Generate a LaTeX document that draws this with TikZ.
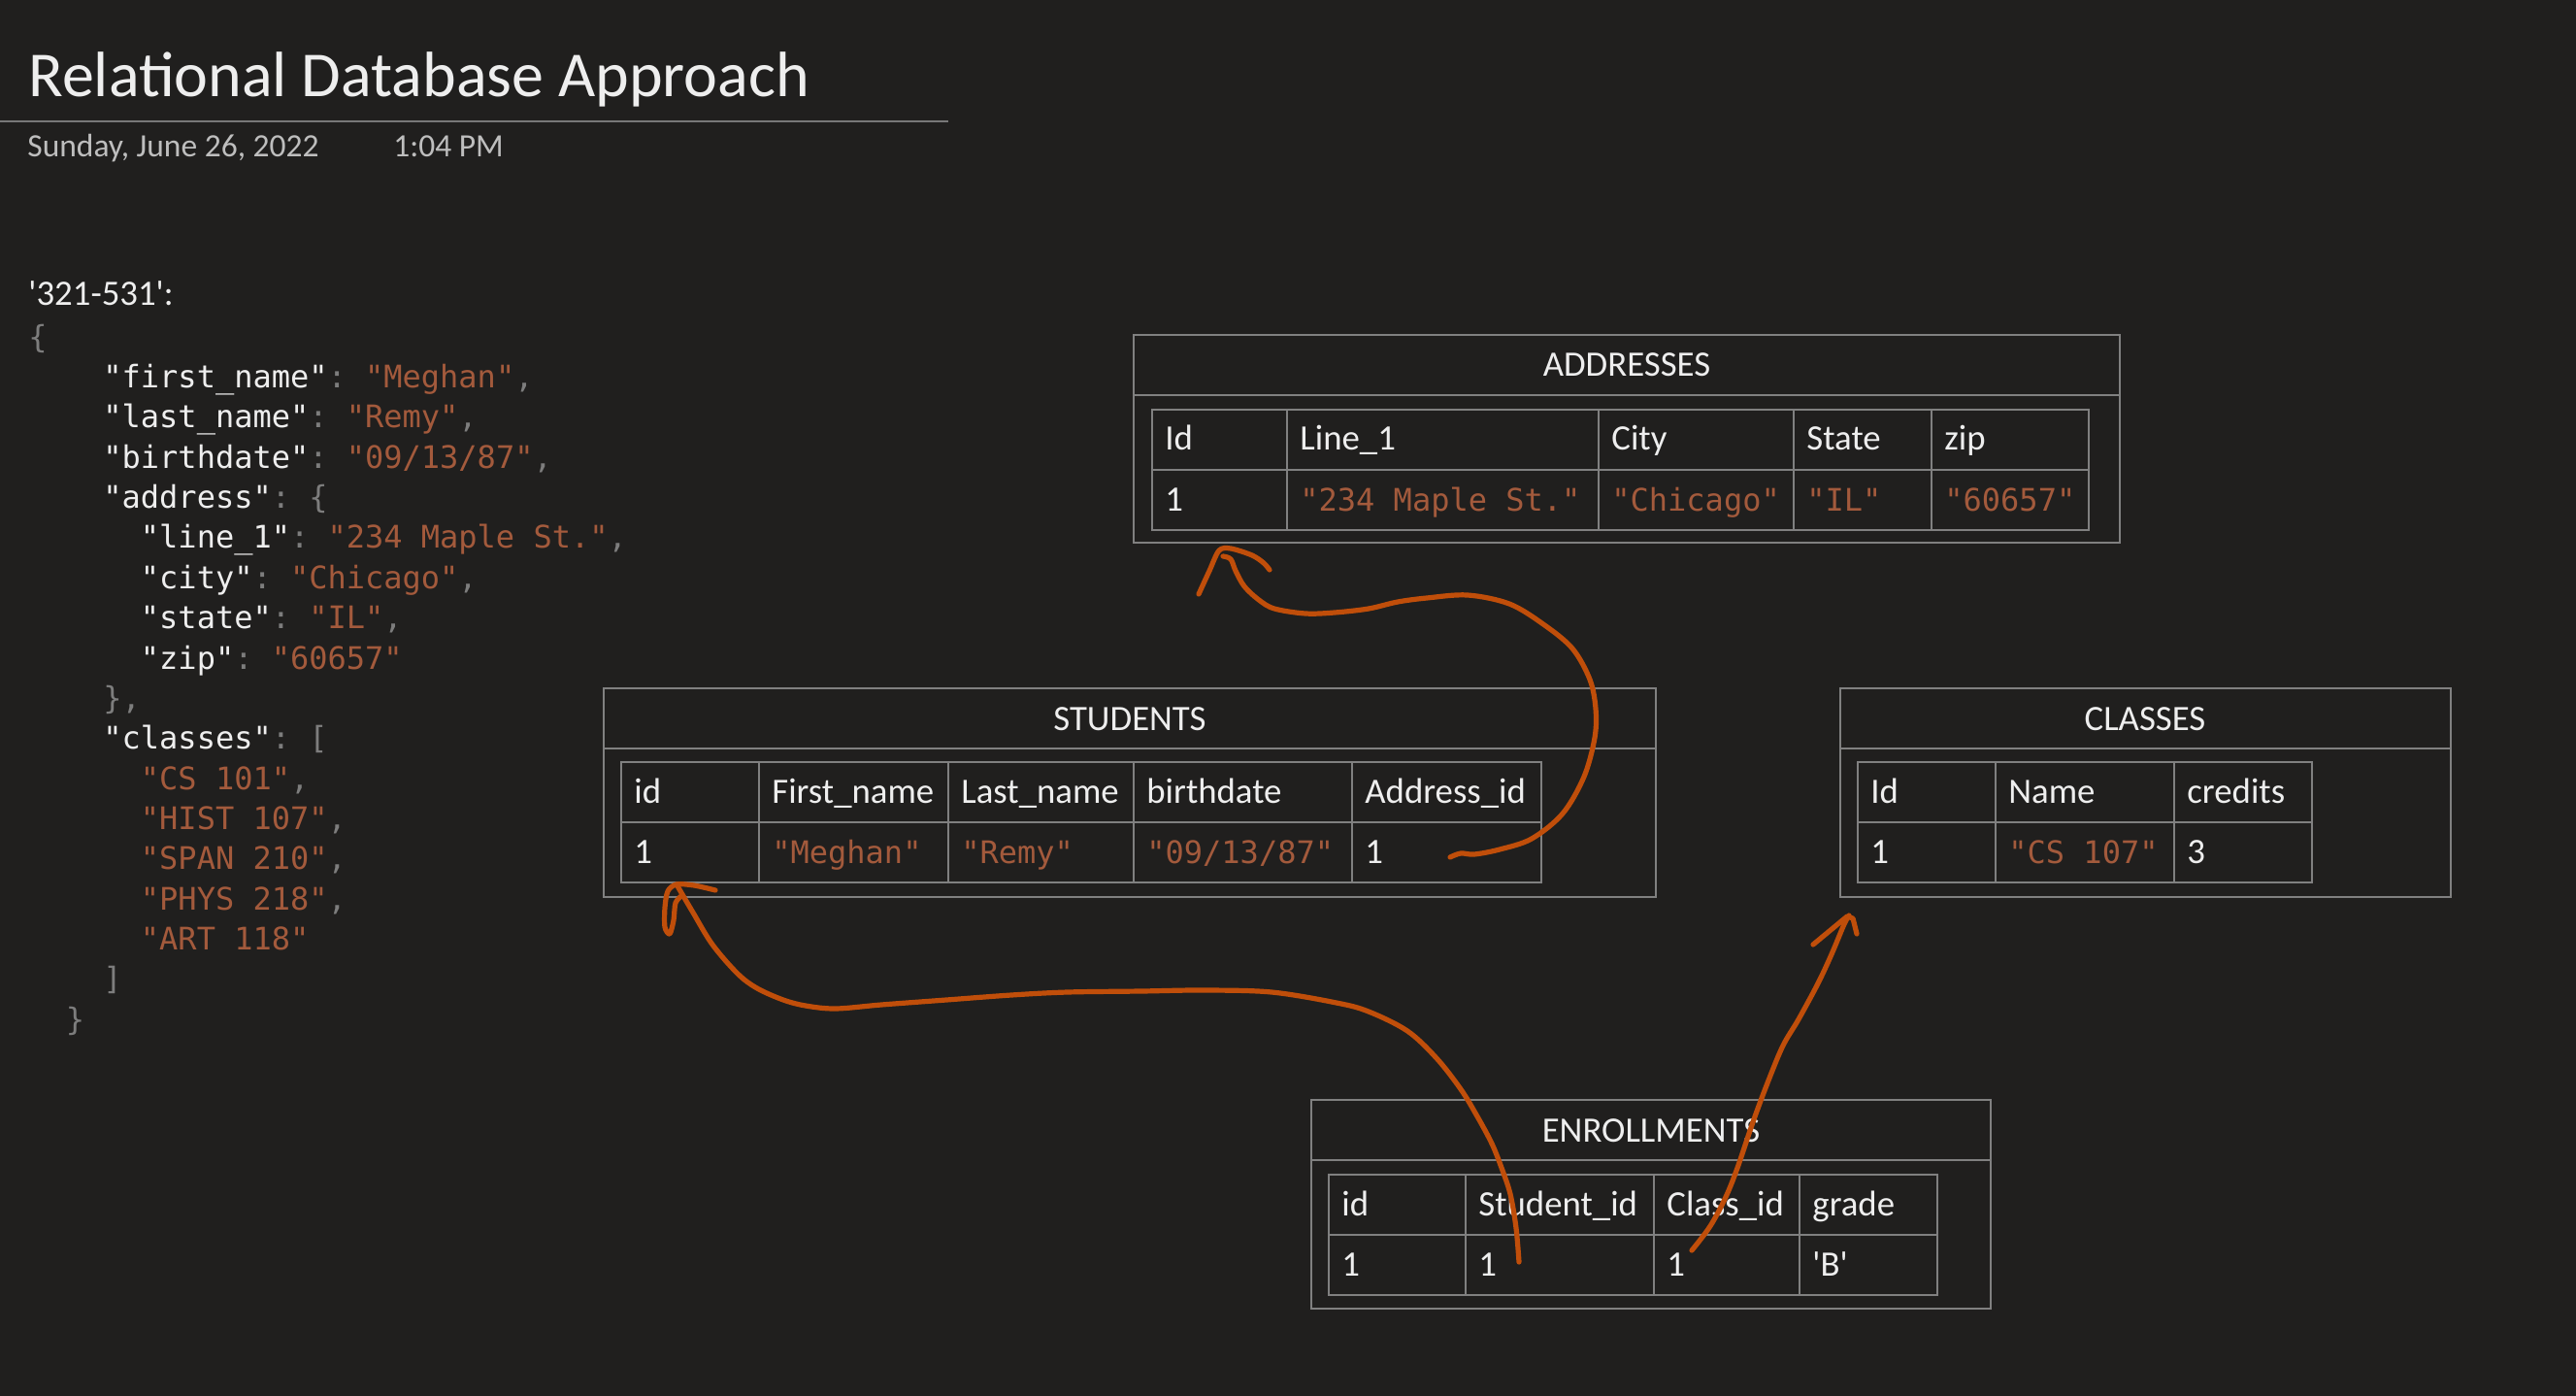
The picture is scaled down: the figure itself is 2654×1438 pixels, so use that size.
\documentclass[tikz,border=0pt]{standalone}
\usepackage{fontspec}
\setmainfont{Carlito}
\setmonofont{DejaVu Sans Mono}
\usetikzlibrary{calc}
\definecolor{bg}{HTML}{201F1E}
\definecolor{fg}{RGB}{238,238,238}
\definecolor{datec}{RGB}{190,190,190}
\definecolor{gridc}{RGB}{128,128,128}
\definecolor{rulec}{RGB}{120,120,120}
\definecolor{strc}{RGB}{163,90,60}
\definecolor{punc}{RGB}{125,125,125}
\definecolor{ink}{RGB}{192,78,10}
\newcommand\bodyfont{\fontsize{18.4pt}{22pt}\selectfont}
\newcommand\datefont{\fontsize{16.75pt}{20pt}\selectfont}
\newcommand\titlefont{\fontsize{33pt}{40pt}\selectfont}
\newcommand\codefont{\ttfamily\fontsize{16pt}{20pt}\selectfont}
\newcommand\sqt{\XeTeXglyph\XeTeXcharglyph"27\relax}
\newcommand\ckey[1]{\textcolor{fg}{#1}}
\newcommand\cpu[1]{\textcolor{punc}{#1}}
\newcommand\cstr[1]{\textcolor{strc}{#1}}
\tikzset{
  cell/.style={anchor=base west, inner sep=0pt, text=fg, font=\bodyfont},
  strcell/.style={anchor=base west, inner sep=0pt, text=strc, font=\codefont},
  ttl/.style={anchor=base, inner sep=0pt, text=fg, font=\bodyfont},
  tbl/.style={draw=gridc, line width=0.8pt},
  hand/.style={draw=ink, line width=2.6pt, line cap=round, line join=round},
  codeline/.style={anchor=base west, inner sep=0pt, font=\codefont},
}
\begin{document}
\begin{tikzpicture}[x=0.5pt,y=-0.5pt]
\fill[bg] (0,0) rectangle (2654,1438);
\useasboundingbox (0,0) rectangle (2654,1438);

% ---------- page header ----------
\node[anchor=base west, inner sep=0pt, text=fg, font=\titlefont] (title) at (29,100) {Relational Database Approach};
\draw[draw=rulec, line width=1pt] (0,125) -- (977,125);
\node[anchor=base west, inner sep=0pt, text=datec, font=\datefont] (date) at (28,162) {Sunday, June 26, 2022};
\node[anchor=base west, inner sep=0pt, text=datec, font=\datefont] (time) at (405,162) {1:04 PM};

% ---------- JSON ----------
\node[anchor=base west, inner sep=0pt, text=fg, font=\bodyfont] (jkey) at (29,315) {\sqt321-531\sqt:};
\node[codeline] (j0) at ({29+19.26*0},{399.5-41.36}) {\cpu{\{}};
\node[codeline] (j1) at ({29+19.26*4},{399.5+41.36*0}) {\ckey{"first\_name"}\cpu{: }\cstr{"Meghan"}\cpu{,}};
\node[codeline] (j2) at ({29+19.26*4},{399.5+41.36*1}) {\ckey{"last\_name"}\cpu{: }\cstr{"Remy"}\cpu{,}};
\node[codeline] (j3) at ({29+19.26*4},{399.5+41.36*2}) {\ckey{"birthdate"}\cpu{: }\cstr{"09/13/87"}\cpu{,}};
\node[codeline] (j4) at ({29+19.26*4},{399.5+41.36*3}) {\ckey{"address"}\cpu{: \{}};
\node[codeline] (j5) at ({29+19.26*6},{399.5+41.36*4}) {\ckey{"line\_1"}\cpu{: }\cstr{"234 Maple St."}\cpu{,}};
\node[codeline] (j6) at ({29+19.26*6},{399.5+41.36*5}) {\ckey{"city"}\cpu{: }\cstr{"Chicago"}\cpu{,}};
\node[codeline] (j7) at ({29+19.26*6},{399.5+41.36*6}) {\ckey{"state"}\cpu{: }\cstr{"IL"}\cpu{,}};
\node[codeline] (j8) at ({29+19.26*6},{399.5+41.36*7}) {\ckey{"zip"}\cpu{: }\cstr{"60657"}};
\node[codeline] (j9) at ({29+19.26*4},{399.5+41.36*8}) {\cpu{\},}};
\node[codeline] (j10) at ({29+19.26*4},{399.5+41.36*9}) {\ckey{"classes"}\cpu{: [}};
\node[codeline] (j11) at ({29+19.26*6},{399.5+41.36*10}) {\cstr{"CS 101"}\cpu{,}};
\node[codeline] (j12) at ({29+19.26*6},{399.5+41.36*11}) {\cstr{"HIST 107"}\cpu{,}};
\node[codeline] (j13) at ({29+19.26*6},{399.5+41.36*12}) {\cstr{"SPAN 210"}\cpu{,}};
\node[codeline] (j14) at ({29+19.26*6},{399.5+41.36*13}) {\cstr{"PHYS 218"}\cpu{,}};
\node[codeline] (j15) at ({29+19.26*6},{399.5+41.36*14}) {\cstr{"ART 118"}};
\node[codeline] (j16) at ({29+19.26*4},{399.5+41.36*15}) {\cpu{]}};
\node[codeline] (j17) at ({29+19.26*2},{399.5+41.36*16}) {\cpu{\}}};

% ---------- ADDRESSES ----------
\draw[tbl] (1168,345) rectangle (2184,559);
\draw[tbl] (1168,407) -- (2184,407);
\draw[tbl] (1187,422) rectangle (2152,546);
\draw[tbl] (1187,484) -- (2152,484);
\foreach \x in {1326,1647,1848,1990} \draw[tbl] (\x,422) -- (\x,546);
\node[ttl] (addrT) at (1676,388) {ADDRESSES};
\node[cell] (ah1) at (1200,464) {Id};
\node[cell] (ah2) at (1339,464) {Line\_1};
\node[cell] (ah3) at (1660,464) {City};
\node[cell] (ah4) at (1861,464) {State};
\node[cell] (ah5) at (2003,464) {zip};
\node[cell] (ad1) at (1200,526) {1};
\node[strcell] (ad2) at (1339,526) {"234 Maple St."};
\node[strcell] (ad3) at (1660,526) {"Chicago"};
\node[strcell] (ad4) at (1861,526) {"IL"};
\node[strcell] (ad5) at (2003,526) {"60657"};

% ---------- STUDENTS ----------
\draw[tbl] (622,709) rectangle (1706,924);
\draw[tbl] (622,771) -- (1706,771);
\draw[tbl] (640,785) rectangle (1588,909);
\draw[tbl] (640,847) -- (1588,847);
\foreach \x in {782,977,1168,1393} \draw[tbl] (\x,785) -- (\x,909);
\node[ttl] (stuT) at (1164,752) {STUDENTS};
\node[cell] (sh1) at (653,827) {id};
\node[cell] (sh2) at (795,827) {First\_name};
\node[cell] (sh3) at (990,827) {Last\_name};
\node[cell] (sh4) at (1181,827) {birthdate};
\node[cell] (sh5) at (1406,827) {Address\_id};
\node[cell] (sd1) at (653,889) {1};
\node[strcell] (sd2) at (795,889) {"Meghan"};
\node[strcell] (sd3) at (990,889) {"Remy"};
\node[strcell] (sd4) at (1181,889) {"09/13/87"};
\node[cell] (sd5) at (1406,889) {1};

% ---------- CLASSES ----------
\draw[tbl] (1896,709) rectangle (2525,924);
\draw[tbl] (1896,771) -- (2525,771);
\draw[tbl] (1914,785) rectangle (2382,909);
\draw[tbl] (1914,847) -- (2382,847);
\foreach \x in {2056,2240} \draw[tbl] (\x,785) -- (\x,909);
\node[ttl] (claT) at (2210,752) {CLASSES};
\node[cell] (ch1) at (1927,827) {Id};
\node[cell] (ch2) at (2069,827) {Name};
\node[cell] (ch3) at (2253,827) {credits};
\node[cell] (cd1) at (1927,889) {1};
\node[strcell] (cd2) at (2069,889) {"CS 107"};
\node[cell] (cd3) at (2253,889) {3};

% ---------- ENROLLMENTS ----------
\draw[tbl] (1351,1133) rectangle (2051,1348);
\draw[tbl] (1351,1195) -- (2051,1195);
\draw[tbl] (1369,1210) rectangle (1996,1334);
\draw[tbl] (1369,1272) -- (1996,1272);
\foreach \x in {1510,1704,1854} \draw[tbl] (\x,1210) -- (\x,1334);
\node[ttl] (enrT) at (1701,1176) {ENROLLMENTS};
\node[cell] (eh1) at (1382,1252) {id};
\node[cell] (eh2) at (1523,1252) {Student\_id};
\node[cell] (eh3) at (1717,1252) {Class\_id};
\node[cell] (eh4) at (1867,1252) {grade};
\node[cell] (ed1) at (1382,1314) {1};
\node[cell] (ed2) at (1523,1314) {1};
\node[cell] (ed3) at (1717,1314) {1};
\node[cell] (ed4) at (1867,1314) {\sqt B\sqt};

% ---------- hand-drawn arrows ----------
\coordinate (a1s) at (1494,883);
\coordinate (a1t) at (1260,573);
\coordinate (a2s) at (1565,1300);
\coordinate (a2t) at (697,911);
\coordinate (a3s) at (1743,1288);
\coordinate (a3t) at (1905,943);

% Address_id -> ADDRESSES
\draw[hand] plot[smooth, tension=0.55] coordinates {(a1s) (1505,879) (1519,880) (1545,875) (1578,864) (1610,838) (1632,800) (1643,760) (1644,730) (1638,700) (1620,668) (1590,643) (1555,622) (1512,613) (1470,616) (1440,620) (1410,627) (1375,631) (1345,632) (1313,627) (1297,618) (1282,604) (1273,588) (1268,576) (a1t)};
\draw[hand] plot[smooth, tension=0.5] coordinates {(1235,612) (1246,588) (1256,567) (1268,565) (1290,572) (1302,580) (1308,587)};

% Student_id -> STUDENTS
\draw[hand] plot[smooth, tension=0.55] coordinates {(a2s) (1562,1265) (1556,1230) (1547,1203) (1537,1178) (1522,1150) (1505,1122) (1480,1090) (1450,1062) (1410,1042) (1377,1033) (1310,1022) (1240,1020) (1176,1021) (1100,1022) (1042,1025) (975,1030) (908,1035) (861,1039) (830,1036) (807,1030) (780,1018) (760,1003) (734,973) (714,940) (704,923) (a2t)};
\draw[hand] plot[smooth, tension=0.5] coordinates {(737,917) (715,912) (697,911) (688,918) (685,935) (685,955) (690,962) (694,948) (696,930) (703,922)};

% Class_id -> CLASSES
\draw[hand] plot[smooth, tension=0.55] coordinates {(a3s) (1762,1263) (1778,1233) (1790,1203) (1807,1153) (1822,1113) (1837,1077) (1853,1050) (1873,1013) (1887,983) (1900,952) (a3t)};
\draw[hand] (1868,973) -- (1903,944) -- (1909,946) -- (1913,962);
\end{tikzpicture}
\end{document}
